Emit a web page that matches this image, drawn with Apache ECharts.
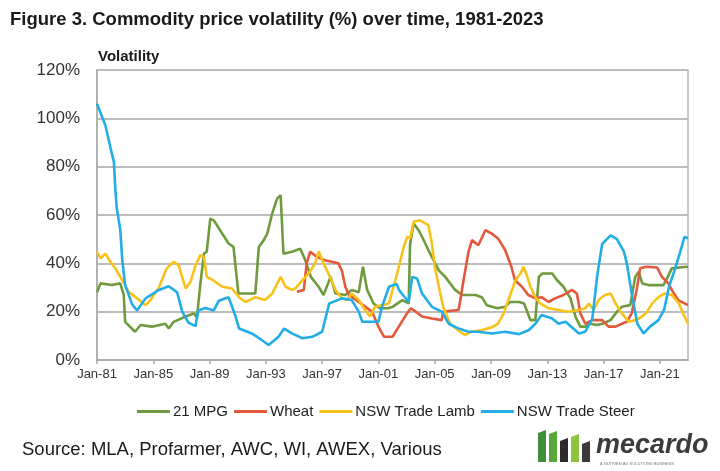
<!DOCTYPE html>
<html>
<head>
<meta charset="utf-8">
<script src="https://cdn.jsdelivr.net/npm/echarts@6/dist/echarts.min.js"></script>
<style>
html,body{margin:0;padding:0;background:#fff;}
#c{width:720px;height:471px;}
</style>
</head>
<body>
<div id="c"></div>
<script>
// ---- Data (year, volatility %) ----
const seriesNames = ['21 MPG', 'Wheat', 'NSW Trade Lamb', 'NSW Trade Steer'];
const xTickYears = [1981, 1985, 1989, 1993, 1997, 2001, 2005, 2009, 2013, 2017, 2021];
const xTickLabels = ['Jan-81', 'Jan-85', 'Jan-89', 'Jan-93', 'Jan-97', 'Jan-01', 'Jan-05', 'Jan-09', 'Jan-13', 'Jan-17', 'Jan-21'];
const yTicks = [0, 20, 40, 60, 80, 100, 120];

const mpg21 = [
  [1981.0, 28], [1981.25, 31.7], [1982.05, 31], [1982.65, 31.7], [1982.9, 27], [1983.0, 15.8],
  [1983.7, 11.7], [1984.1, 14.5], [1984.9, 13.8], [1985.85, 15], [1986.1, 13], [1986.45, 15.8],
  [1987.3, 18], [1987.9, 19.3], [1988.1, 17.5], [1988.35, 31.7], [1988.6, 44], [1988.8, 44.8],
  [1989.05, 58.5], [1989.3, 57.8], [1989.9, 52.3], [1990.35, 48.2], [1990.7, 46.8], [1991.05, 27.5],
  [1992.25, 27.5], [1992.5, 46.8], [1992.85, 49.6], [1993.1, 52.3], [1993.45, 60.6], [1993.8, 66.8],
  [1994.05, 68.2], [1994.25, 44], [1994.85, 44.8], [1995.45, 46], [1995.8, 41.3], [1996.2, 34.4],
  [1996.75, 30.3], [1997.1, 26.9], [1997.6, 34.4], [1997.95, 27.5], [1998.65, 26.9], [1999.1, 29],
  [1999.6, 28], [1999.9, 38.6], [2000.2, 29], [2000.65, 23.4], [2001.1, 21.4], [2001.7, 21.4],
  [2002.0, 22], [2002.7, 24.8], [2003.15, 23.4], [2003.25, 48], [2003.5, 56.5], [2003.85, 53.7],
  [2004.1, 51], [2004.55, 45.5], [2005.3, 37], [2005.75, 34.4], [2006.45, 29], [2006.95, 26.9],
  [2007.9, 26.9], [2008.35, 26], [2008.7, 22.7], [2009.45, 21.4], [2010.0, 22], [2010.35, 24],
  [2011.0, 24], [2011.35, 23.4], [2011.8, 16.5], [2012.15, 16.5], [2012.4, 34.4], [2012.65, 35.8],
  [2013.35, 35.8], [2013.7, 33], [2014.15, 30.3], [2014.65, 25.5], [2015.0, 18], [2015.35, 13.8],
  [2015.7, 13.8], [2016.05, 15], [2016.55, 14.5], [2016.9, 15], [2017.5, 16.5], [2017.95, 20],
  [2018.3, 22], [2018.9, 22.7], [2019.25, 34.4], [2019.5, 36.5], [2019.75, 31.7], [2020.2, 31],
  [2021.25, 31], [2021.5, 33.7], [2021.85, 37.9], [2022.35, 38.3], [2023.0, 38.6]
];

const wheat = [
  [1995.2, 28.2], [1995.7, 29], [1995.9, 40], [1996.15, 44.8], [1996.6, 42.7], [1997.2, 41.3],
  [1998.15, 40], [1998.4, 37], [1998.65, 30.3], [1998.9, 26.9], [1999.6, 24], [2000.55, 20],
  [2001.0, 13.8], [2001.4, 9.6], [2002.0, 9.6], [2002.45, 13.8], [2002.95, 18.6], [2003.3, 21.4],
  [2003.65, 20], [2004.1, 18], [2004.8, 17.2], [2005.5, 16.5], [2005.6, 20], [2006.7, 20.7],
  [2007.05, 33], [2007.4, 44.8], [2007.65, 49.6], [2008.1, 47.5], [2008.6, 53.7], [2009.05, 52.3],
  [2009.5, 50.3], [2010.0, 45.5], [2010.45, 38.6], [2010.7, 33], [2011.2, 30.3], [2011.65, 26.9],
  [2012.15, 25.5], [2012.6, 26], [2013.1, 24], [2013.55, 25.5], [2014.15, 26.9], [2014.75, 29],
  [2015.1, 27.5], [2015.35, 19.3], [2015.7, 15], [2016.2, 16.5], [2016.9, 16.5], [2017.35, 13.8],
  [2017.85, 13.8], [2018.3, 15], [2018.65, 15.8], [2019.0, 19.3], [2019.35, 29], [2019.6, 38],
  [2020.05, 38.6], [2020.8, 38.3], [2021.15, 34.4], [2021.6, 31.7], [2022.0, 27.5], [2022.3, 24.8],
  [2023.0, 22.7]
];

const lamb = [
  [1981.0, 44.8], [1981.25, 42], [1981.6, 44], [1981.95, 40.6], [1982.3, 37.9], [1982.8, 33],
  [1983.25, 28.2], [1983.85, 25.5], [1984.45, 22.7], [1984.8, 24.8], [1985.4, 30], [1985.95, 37.9],
  [1986.45, 40.6], [1986.8, 39.2], [1987.05, 34.4], [1987.3, 29.6], [1987.65, 32.4], [1988.0, 39.2],
  [1988.35, 43.4], [1988.6, 42.7], [1988.8, 34.4], [1989.25, 33], [1989.9, 30.3], [1990.6, 29.6],
  [1991.1, 26], [1991.55, 24], [1992.25, 26], [1992.95, 24.8], [1993.45, 27.5], [1994.05, 34.4],
  [1994.4, 30.3], [1994.85, 29], [1995.1, 29.6], [1995.6, 33], [1996.05, 35.8], [1996.5, 40],
  [1996.75, 45], [1997.1, 40], [1997.45, 35.8], [1997.95, 29], [1998.4, 25.5], [1998.75, 24.8],
  [1999.1, 27.5], [1999.6, 24.8], [2000.05, 20.7], [2000.4, 18], [2000.75, 22], [2001.25, 22.7],
  [2001.75, 23.4], [2002.2, 33], [2002.45, 38.6], [2002.8, 46.8], [2003.05, 51], [2003.25, 50.3],
  [2003.5, 57.2], [2003.95, 57.8], [2004.55, 55.8], [2004.8, 48.2], [2005.0, 38.6], [2005.4, 27.5],
  [2005.6, 22], [2006.1, 15], [2006.8, 11.7], [2007.15, 10.3], [2007.6, 11.7], [2008.35, 12.4],
  [2009.05, 13.5], [2009.5, 15], [2009.9, 19.3], [2010.4, 27.5], [2010.75, 33], [2011.1, 35.8],
  [2011.3, 38.6], [2011.55, 35], [2011.8, 30.3], [2012.15, 26], [2012.5, 23.4], [2013.1, 21.4],
  [2013.8, 20.7], [2014.5, 20], [2015.25, 20.7], [2015.7, 21.4], [2015.95, 23.4], [2016.3, 20.7],
  [2016.65, 24.8], [2017.1, 26.9], [2017.5, 27.5], [2017.85, 23.4], [2018.3, 19.3], [2018.8, 15.8],
  [2019.25, 16.5], [2019.75, 18], [2020.1, 20], [2020.45, 23.4], [2020.9, 26], [2021.3, 27.5],
  [2021.85, 26.9], [2022.35, 23.4], [2022.65, 19.3], [2023.0, 15]
];

const steer = [
  [1981.0, 106], [1981.6, 97], [1981.95, 88], [1982.2, 82], [1982.3, 71], [1982.4, 63],
  [1982.65, 54], [1982.8, 41], [1983.0, 31], [1983.5, 23], [1983.85, 20.5], [1984.45, 25.5],
  [1985.4, 29], [1986.1, 30.5], [1986.7, 28], [1987.05, 20], [1987.5, 15.5], [1988.0, 14],
  [1988.2, 20.5], [1988.7, 21.5], [1989.3, 20.5], [1989.65, 24.5], [1990.35, 26], [1990.85, 18],
  [1991.1, 13], [1992.0, 11], [1992.7, 8.3], [1993.2, 6.2], [1993.9, 9.6], [1994.3, 13],
  [1994.85, 11], [1995.6, 9], [1996.3, 9.6], [1997.0, 11.7], [1997.5, 23.4], [1998.4, 25.5],
  [1999.1, 24.8], [1999.6, 20], [1999.85, 15.8], [2001.0, 15.8], [2001.25, 22], [2001.75, 30.3],
  [2002.3, 31.5], [2002.45, 29], [2003.15, 24], [2003.4, 34.4], [2003.75, 33.7], [2004.1, 27.5],
  [2004.8, 22], [2005.5, 20], [2006.0, 15], [2006.7, 13], [2007.4, 11.7], [2008.1, 11.7],
  [2009.07, 11], [2010.0, 11.7], [2011.0, 10.7], [2011.7, 12.4], [2012.15, 15], [2012.6, 18.6],
  [2013.35, 17.2], [2013.8, 15], [2014.3, 15.8], [2015.25, 11], [2015.7, 11.7], [2016.2, 17],
  [2016.55, 35], [2016.9, 48], [2017.5, 51.6], [2017.95, 50], [2018.45, 44.8], [2018.65, 40],
  [2019.0, 27.5], [2019.4, 15], [2019.85, 11], [2020.3, 13.8], [2020.9, 16.5], [2021.3, 20.7],
  [2021.65, 30.3], [2022.1, 38], [2022.45, 44.8], [2022.75, 51], [2023.0, 50.3]
];

const seriesData = [mpg21, wheat, lamb, steer];
const seriesColors = ['#6f9a3e', '#e4583b', '#f9c21b', '#22ade6'];

const chart = echarts.init(document.getElementById('c'), null, { renderer: 'canvas' });
const FONT = '"Liberation Sans", Arial, sans-serif';

const option = {
  backgroundColor: '#ffffff',
  animation: false,
  textStyle: { fontFamily: FONT },
  grid: { left: 97, right: 32, top: 70, bottom: 111, show: true, borderColor: '#b8b8b8', borderWidth: 1.5, containLabel: false },
  legend: {
    left: 132, top: 399,
    itemWidth: 33, itemHeight: 3, itemGap: 6,
    icon: 'rect',
    textStyle: { fontSize: 15, color: '#222', fontFamily: FONT, padding: [0, 0, 0, -2] },
    data: seriesNames
  },
  xAxis: {
    type: 'value', min: 1981, max: 2023, interval: 4,
    axisLine: { show: true, lineStyle: { color: '#a8a8a8', width: 1.5 } },
    axisTick: { show: true, length: 4, lineStyle: { color: '#a8a8a8', width: 1.5 } },
    splitLine: { show: false },
    axisLabel: {
      showMaxLabel: false, margin: 8, fontSize: 13, color: '#333', fontFamily: FONT,
      formatter: function (v) { const i = xTickYears.indexOf(Math.round(v)); return i >= 0 ? xTickLabels[i] : ''; }
    }
  },
  yAxis: {
    type: 'value', min: yTicks[0], max: yTicks[yTicks.length - 1], interval: 20,
    axisLine: { show: true, lineStyle: { color: '#a8a8a8', width: 1.5 } },
    axisTick: { show: false },
    splitLine: { show: true, lineStyle: { color: '#bdbdbd', width: 1.8 } },
    axisLabel: { margin: 17, fontSize: 17, color: '#333', fontFamily: FONT, formatter: '{value}%' }
  },
  series: seriesNames.map((n, i) => ({
    name: n, type: 'line', data: seriesData[i], showSymbol: false, symbol: 'none',
    lineStyle: { color: seriesColors[i], width: 2.6 }, itemStyle: { color: seriesColors[i] },
    z: 2 + i
  })),
  graphic: [
    { type: 'text', left: 10, top: 10, style: { text: 'Figure 3. Commodity price volatility (%) over time, 1981-2023', font: 'bold 18.5px ' + FONT, fill: '#1a1a1a' } },
    { type: 'text', left: 98, top: 49, style: { text: 'Volatility', font: 'bold 15px ' + FONT, fill: '#1a1a1a' } },
    { type: 'text', left: 22, top: 440, style: { text: 'Source: MLA, Profarmer, AWC, WI, AWEX, Various', font: '18.5px ' + FONT, fill: '#1a1a1a' } },
    // logo
    { type: 'polygon', shape: { points: [[538, 433], [546, 430], [546, 462], [538, 462]] }, style: { fill: '#3e8e3a' } },
    { type: 'polygon', shape: { points: [[549, 434], [557, 431], [557, 462], [549, 462]] }, style: { fill: '#5aa83c' } },
    { type: 'polygon', shape: { points: [[560, 441], [568, 438], [568, 462], [560, 462]] }, style: { fill: '#2b2b2b' } },
    { type: 'polygon', shape: { points: [[571, 437], [579, 434], [579, 462], [571, 462]] }, style: { fill: '#8cc43f' } },
    { type: 'polygon', shape: { points: [[582, 444], [590, 441], [590, 462], [582, 462]] }, style: { fill: '#3a3a3a' } },
    { type: 'text', left: 596, top: 432, style: { text: 'mecardo', font: 'italic bold 27px ' + FONT, fill: '#3b3b3b' } },
    { type: 'text', left: 600, top: 462, style: { text: 'A NUTRIEN AG SOLUTIONS BUSINESS', font: '4px ' + FONT, fill: '#777' } }
  ]
};
chart.setOption(option);
</script>
</body>
</html>
